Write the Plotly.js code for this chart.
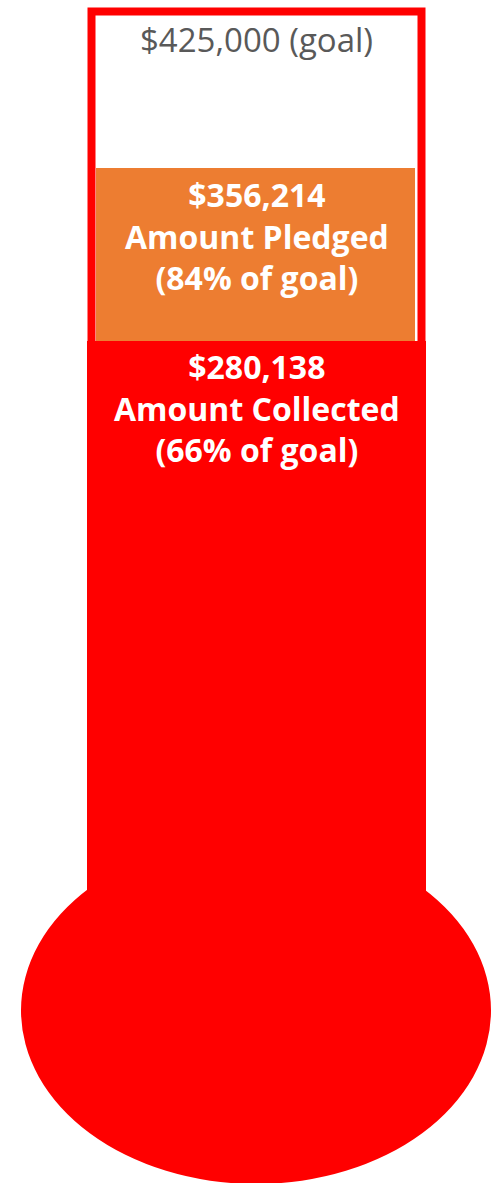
<!DOCTYPE html>
<html>
<head>
<meta charset="utf-8">
<script src="https://cdn.plot.ly/plotly-3.0.1.min.js"></script>
<style>html,body{margin:0;padding:0;background:#fff;}#chart{width:498px;height:1183px;}</style>
</head>
<body>
<div id="chart"></div>
<script>
// ---- data ----
const goal = 425000;
const pledged = 356214;
const collected = 280138;
const labels = ["Amount Pledged", "Amount Collected"];

// ---- helpers ----
const fmt = v => "$" + v.toLocaleString("en-US");
const pct = v => Math.round(v / goal * 100) + "% of goal";

const W = 498, H = 1183;
const yRange = [-90100, 430100];
const s = H / (yRange[1] - yRange[0]);             // px per unit
const pxToVal = px => yRange[1] - px / s;

const red = "#FF0000", orange = "#ED7D31";
const cx = 256.5;

const traces = [
  { // goal frame
    type: "bar", x: [cx], y: [goal], base: [0], width: [330],
    marker: { color: "#FFFFFF", line: { color: red, width: 8 } },
    hoverinfo: "skip", showlegend: false
  },
  { // collected column
    type: "bar", x: [cx], y: [collected], base: [0], width: [339],
    marker: { color: red, line: { width: 0 } },
    hoverinfo: "skip", showlegend: false
  },
  { // pledged portion
    type: "bar", x: [cx - 1], y: [pledged - collected], base: [collected], width: [319],
    marker: { color: orange, line: { width: 0 } },
    hoverinfo: "skip", showlegend: false
  }
];

const fontFam = "'Open Sans', 'Noto Sans', sans-serif";

const layout = {
  width: W, height: H,
  margin: { l: 0, r: 0, t: 0, b: 0, pad: 0 },
  paper_bgcolor: "#FFFFFF", plot_bgcolor: "#FFFFFF",
  barmode: "overlay",
  showlegend: false,
  xaxis: { range: [0, W], visible: false, fixedrange: true },
  yaxis: { range: yRange, visible: false, fixedrange: true },
  shapes: [
    { type: "circle", xref: "x", yref: "y", layer: "above",
      x0: 21, x1: 491, y0: pxToVal(1184), y1: pxToVal(837),
      fillcolor: red, line: { width: 0 } }
  ],
  annotations: [
    { x: cx, y: goal, xref: "x", yref: "y", yanchor: "middle", yshift: -28,
      text: fmt(goal) + " (goal)", showarrow: false,
      font: { family: fontFam, size: 33, color: "#595959" } },
    { x: cx, y: pledged, xref: "x", yref: "y", yanchor: "middle", yshift: -68,
      text: "<b>" + fmt(pledged) + "<br>" + labels[0] + "<br>(" + pct(pledged) + ")</b>",
      showarrow: false,
      font: { family: fontFam, size: 32, color: "#FFFFFF" } },
    { x: cx, y: collected, xref: "x", yref: "y", yanchor: "middle", yshift: -67,
      text: "<b>" + fmt(collected) + "<br>" + labels[1] + "<br>(" + pct(collected) + ")</b>",
      showarrow: false,
      font: { family: fontFam, size: 32, color: "#FFFFFF" } }
  ]
};

Plotly.newPlot("chart", traces, layout, { displayModeBar: false, staticPlot: true });
</script>
</body>
</html>
